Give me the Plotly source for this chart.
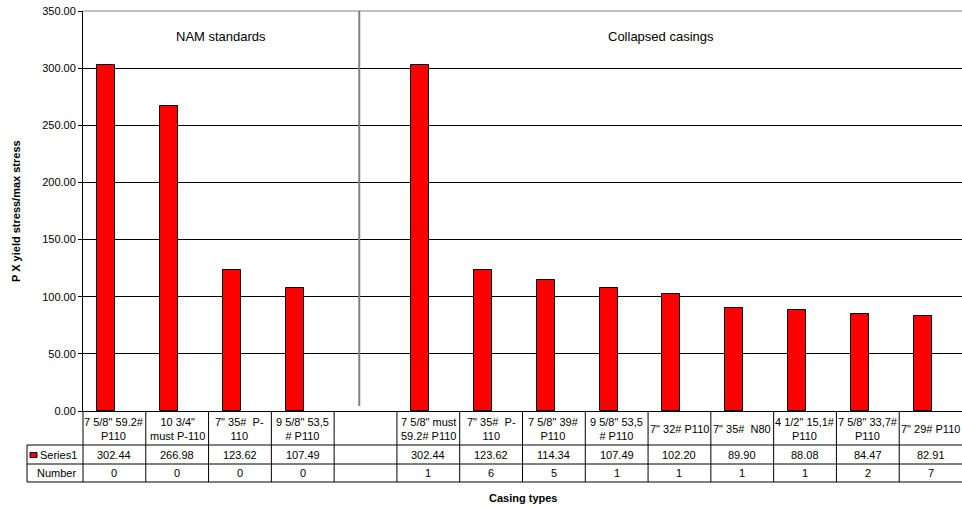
import plotly.graph_objects as go

# Casing types (blank slot separates the two groups)
categories = [
    '7 5/8" 59.2#<br>P110', '10 3/4"<br>must P-110', '7" 35#  P-<br>110', '9 5/8" 53,5<br># P110',
    '',
    '7 5/8" must<br>59.2# P110', '7" 35#  P-<br>110', '7 5/8" 39#<br>P110', '9 5/8" 53,5<br># P110',
    '7" 32# P110', '7" 35#  N80', '4 1/2" 15,1#<br>P110', '7 5/8" 33,7#<br>P110', '7" 29# P110',
]
series1 = [302.44, 266.98, 123.62, 107.49, None,
           302.44, 123.62, 114.34, 107.49, 102.20, 89.90, 88.08, 84.47, 82.91]
number = [0, 0, 0, 0, None, 1, 6, 5, 1, 1, 1, 1, 2, 7]
group_labels = ["NAM standards", "Collapsed casings"]
y_ticks = [0, 50, 100, 150, 200, 250, 300, 350]

FONT = "Liberation Sans, Arial, sans-serif"
W, H = 962, 508
ML, MT, MB = 83, 11, 97
plot_w = W - ML
plot_h = H - MT - MB
ncol = len(categories)
xs = list(range(ncol))


def py(px):
    """pixel row -> paper y"""
    return (H - MB - px) / plot_h


def pxp(px):
    """pixel column -> paper x"""
    return (px - ML) / plot_w


fig = go.Figure()
fig.add_trace(go.Bar(
    x=xs, y=series1, name="Series1",
    width=0.287, offset=-0.272,
    marker=dict(color="#FF0000", line=dict(color="#000000", width=1)),
    hoverinfo="skip", showlegend=False,
))

shapes = []
line_k = dict(color="#000000", width=1)
# table rows
row_y = [445, 464, 482]
for ry in row_y:
    shapes.append(dict(type="line", xref="paper", yref="paper",
                       x0=pxp(27), x1=1, y0=py(ry), y1=py(ry), line=line_k))
# header column left border
shapes.append(dict(type="line", xref="paper", yref="paper",
                   x0=pxp(27), x1=pxp(27), y0=py(445), y1=py(482), line=line_k))
# column separators
for k in range(ncol):
    shapes.append(dict(type="line", xref="paper", yref="paper",
                       x0=k / ncol, x1=k / ncol, y0=0, y1=py(482), line=line_k))
# divider between the two groups
shapes.append(dict(type="line", xref="x", yref="paper",
                   x0=3.9, x1=3.9, y0=py(406), y1=1,
                   line=dict(color="#808080", width=2)))
# top border
shapes.append(dict(type="line", xref="paper", yref="paper",
                   x0=0, x1=1, y0=1, y1=1, line=dict(color="#808080", width=1)))
# legend key for Series1
shapes.append(dict(type="rect", xref="paper", yref="paper",
                   x0=pxp(30), x1=pxp(37), y0=py(457.5), y1=py(452.5),
                   fillcolor="#FF0000", line=dict(color="#000000", width=1)))

ann = []
tf = dict(family=FONT, size=11, color="#000000")
for i, c in enumerate(categories):
    ann.append(dict(x=i, y=py(428.5), xref="x", yref="paper", text=c,
                    showarrow=False, font=tf, xanchor="center", yanchor="middle"))
    if series1[i] is not None:
        ann.append(dict(x=i, y=py(455), xref="x", yref="paper", text=f"{series1[i]:.2f}",
                        showarrow=False, font=tf, xanchor="center", yanchor="middle"))
    if number[i] is not None:
        ann.append(dict(x=i, y=py(473), xref="x", yref="paper", text=str(number[i]),
                        showarrow=False, font=tf, xanchor="center", yanchor="middle"))
ann.append(dict(x=pxp(38), y=py(455), xref="paper", yref="paper", text="Series1",
                showarrow=False, font=tf, xanchor="left", yanchor="middle"))
ann.append(dict(x=pxp(78), y=py(473), xref="paper", yref="paper", text="Number",
                showarrow=False, font=tf, xanchor="right", yanchor="middle"))
# group headers
ann.append(dict(x=(-0.5 + 3.9) / 2, y=py(37), xref="x", yref="paper", text=group_labels[0],
                showarrow=False, font=dict(family=FONT, size=13, color="#000000"),
                xanchor="center", yanchor="middle"))
ann.append(dict(x=(3.9 + ncol - 0.5) / 2, y=py(37), xref="x", yref="paper", text=group_labels[1],
                showarrow=False, font=dict(family=FONT, size=13, color="#000000"),
                xanchor="center", yanchor="middle"))
# axis titles
ann.append(dict(x=0.5, y=py(498), xref="paper", yref="paper", text="<b>Casing types</b>",
                showarrow=False, font=dict(family=FONT, size=11, color="#000000"),
                xanchor="center", yanchor="middle"))
ann.append(dict(x=pxp(16), y=0.5, xref="paper", yref="paper",
                text="<b>P X yield stress/max stress</b>", textangle=-90,
                showarrow=False, font=dict(family=FONT, size=11, color="#000000"),
                xanchor="center", yanchor="middle"))

fig.update_layout(
    width=W, height=H,
    margin=dict(l=ML, r=0, t=MT, b=MB, pad=0),
    paper_bgcolor="#FFFFFF", plot_bgcolor="#FFFFFF",
    font=dict(family=FONT, size=11, color="#000000"),
    shapes=shapes, annotations=ann,
    xaxis=dict(range=[-0.5, ncol - 0.5], showticklabels=False, showgrid=False,
               zeroline=False, showline=True, linecolor="#000000", linewidth=1,
               ticks="", fixedrange=True),
    yaxis=dict(range=[0, 350], tickvals=y_ticks, tickformat=".2f",
               showgrid=True, gridcolor="#000000", gridwidth=1,
               zeroline=False, showline=True, linecolor="#000000", linewidth=1,
               ticks="outside", ticklen=4, tickcolor="#000000",
               tickfont=dict(family=FONT, size=11, color="#000000"),
               fixedrange=True),
    bargap=0, showlegend=False,
)

fig.write_html("out.html")
